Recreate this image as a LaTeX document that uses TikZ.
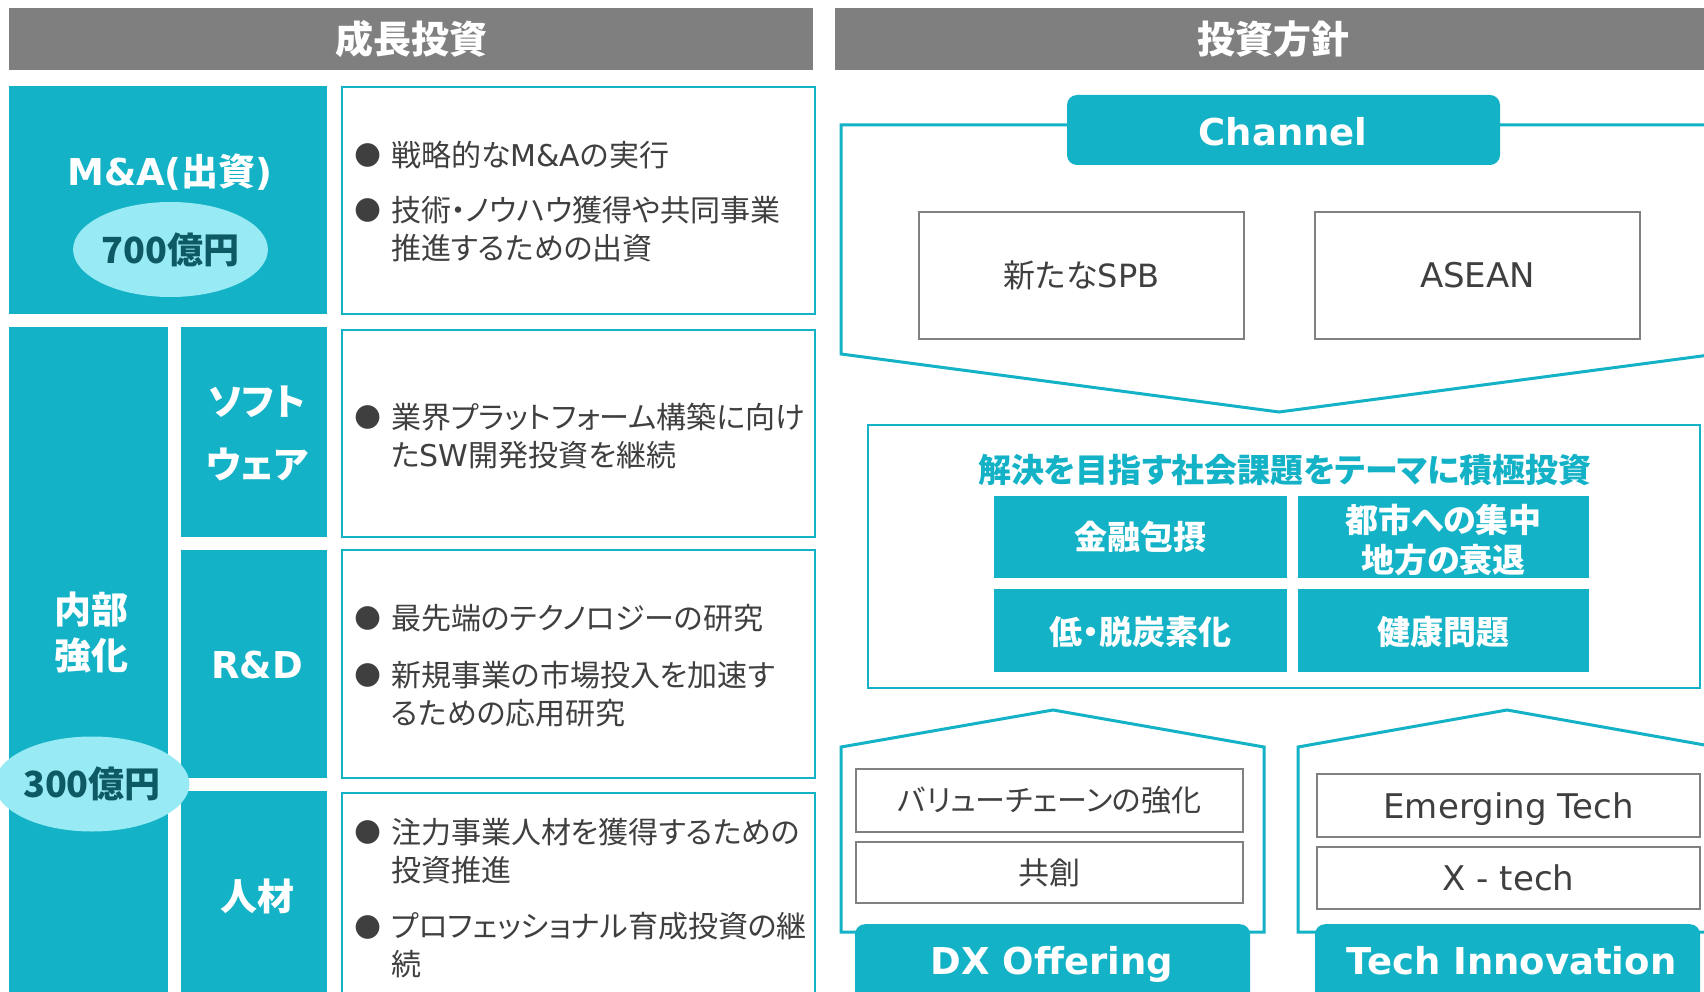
\documentclass[tikz,border=0pt]{standalone}
\usepackage{fontspec}
\setmainfont{Noto Sans CJK JP}[RawFeature=+palt]
\newfontfamily\latf{DejaVu Sans}
\newcommand\myL[1]{{\latf #1}}
\usetikzlibrary{shapes.geometric}
\definecolor{tealc}{HTML}{13B2C6}
\definecolor{lightc}{HTML}{98EBF5}
\definecolor{darkc}{HTML}{0E5A64}
\definecolor{hdrc}{HTML}{7F7F7F}
\definecolor{txtc}{HTML}{3F3F3F}
\definecolor{grayb}{HTML}{808080}
\tikzset{
  hdr/.style={fill=hdrc, draw=none, inner sep=0pt, text=white, font=\fontsize{38}{38}\selectfont\bfseries},
  tealbox/.style={fill=tealc, draw=none, inner sep=0pt},
  lab/.style={text=white, font=\fontsize{37}{46}\selectfont\bfseries, align=center, inner sep=0pt},
  txtbox/.style={draw=tealc, line width=2pt, fill=white, inner sep=0pt},
  bul/.style={text=txtc, font=\latf\fontsize{31}{31}\selectfont, inner sep=0pt},
  itm/.style={text=txtc, font=\fontsize{30}{38}\selectfont, align=left, anchor=west, inner sep=0pt},
  oval/.style={ellipse, fill=lightc, draw=none, inner sep=0pt, text=darkc, font=\fontsize{36}{36}\selectfont\bfseries},
  gbox/.style={draw=grayb, line width=2pt, fill=white, inner sep=0pt, text=txtc, font=\fontsize{32}{32}\selectfont},
  gboxs/.style={draw=grayb, line width=2pt, fill=white, inner sep=0pt, text=txtc, font=\fontsize{30}{30}\selectfont},
  outline/.style={draw=tealc, line width=3pt, line join=miter, fill=white},
  biglab/.style={text=white, font=\latf\fontsize{37}{37}\selectfont\bfseries, inner sep=0pt, anchor=base},
  sqlab/.style={text=white, font=\fontsize{33}{40}\selectfont\bfseries, align=center, inner sep=0pt},
}
\begin{document}
\begin{tikzpicture}[x=1pt,y=-1pt]
\useasboundingbox (0,0) rectangle (1704,992);
\clip (0,0) rectangle (1704,992);
\fill[white] (0,0) rectangle (1704,992);

% headers
\node[hdr, minimum width=804pt, minimum height=62pt] (hL) at (411,39) {成長投資};
\node[hdr, minimum width=876pt, minimum height=62pt] (hR) at (1273,39) {投資方針};

% ---------- M&A ----------
\node[tealbox, minimum width=318pt, minimum height=228pt] (ma) at (168,200) {};
\node[lab] (maT) at (170,172) {\myL{M\&A(}出資\myL{)}};
\node[oval, minimum width=183pt, minimum height=95pt] (ma7) at (170.5,249.5) {700億円};
\node[txtbox, minimum width=473pt, minimum height=227pt] (maBox) at (578.5,200.5) {};
\node[bul] (b1) at (368,155) {●};
\node[itm] (t1) at (391,155) {戦略的な\myL{M\&A}の実行};
\node[bul] (b2) at (368,210) {●};
\node[itm] (t2) at (391,229) {技術・ノウハウ獲得や共同事業\\推進するための出資};

% ---------- 内部強化 ----------
\node[tealbox, minimum width=159pt, minimum height=690pt, anchor=north] (nb) at (88.5,327) {};
\node[lab] (nbT) at (91,633) {内部\\強化};

\node[tealbox, minimum width=146pt, minimum height=210pt] (sw) at (254,432) {};
\node[lab, font=\fontsize{37}{63}\selectfont\bfseries] (swT) at (257,433) {ソフト\\ウェア};
\node[tealbox, minimum width=146pt, minimum height=228pt] (rd) at (254,664) {};
\node[lab] (rdT) at (257,665) {\myL{R\&D}};
\node[tealbox, minimum width=146pt, minimum height=230pt, anchor=north] (hr) at (254,791) {};
\node[lab] (hrT) at (257,896) {人材};

\node[txtbox, minimum width=473pt, minimum height=207pt] (swBox) at (578.5,433.5) {};
\node[bul] (b3) at (368,417) {●};
\node[itm] (t3) at (391,436) {業界プラットフォーム構築に向け\\た\myL{SW}開発投資を継続};

\node[txtbox, minimum width=473pt, minimum height=228pt] (rdBox) at (578.5,664) {};
\node[bul] (b4) at (368,618) {●};
\node[itm] (t4) at (391,618) {最先端のテクノロジーの研究};
\node[bul] (b5) at (368,675) {●};
\node[itm] (t5) at (391,694) {新規事業の市場投入を加速す\\るための応用研究};

\node[txtbox, minimum width=473pt, minimum height=230pt, anchor=north] (hrBox) at (578.5,792) {};
\node[bul] (b6) at (368,832) {●};
\node[itm] (t6) at (391,851) {注力事業人材を獲得するための\\投資推進};
\node[bul] (b7) at (368,927) {●};
\node[itm] (t7) at (391,945) {プロフェッショナル育成投資の継\\続};

\node[oval, minimum width=183pt, minimum height=95pt] (nb3) at (92,784) {300億円};

% ---------- Channel ----------
\draw[outline] (841,125) -- (1717,125) -- (1717,354) -- (1279,412) -- (841,354) -- cycle;
\node[tealbox, rounded corners=10pt, minimum width=433pt, minimum height=70pt] (ch) at (1283.5,130) {};
\node[biglab] (chT) at (1283,145.5) {Channel};
\node[gbox, minimum width=325pt, minimum height=127pt] (spb) at (1081.5,275.5) {新たな\myL{SPB}};
\node[gbox, minimum width=325pt, minimum height=127pt, font=\latf\fontsize{34}{34}\selectfont] (asean) at (1477.5,275.5) {ASEAN};

% ---------- 社会課題 ----------
\node[txtbox, minimum width=832pt, minimum height=263pt] (sol) at (1284,556.5) {};
\node[inner sep=0pt, text=tealc, font=\fontsize{33}{33}\selectfont\bfseries] (solT) at (1285,470) {解決を目指す社会課題をテーマに積極投資};
\node[tealbox, minimum width=293pt, minimum height=82pt] (q1) at (1140.5,537) {};
\node[sqlab] (q1T) at (1140.5,537) {金融包摂};
\node[tealbox, minimum width=291pt, minimum height=82pt] (q2) at (1443.5,537) {};
\node[sqlab] (q2T) at (1443.5,540) {都市への集中\\地方の衰退};
\node[tealbox, minimum width=293pt, minimum height=83pt] (q3) at (1140.5,630.5) {};
\node[sqlab] (q3T) at (1140.5,632) {低・脱炭素化};
\node[tealbox, minimum width=291pt, minimum height=83pt] (q4) at (1443.5,630.5) {};
\node[sqlab] (q4T) at (1443.5,632) {健康問題};

% ---------- DX Offering ----------
\draw[outline] (841,932) -- (841,747) -- (1053,710) -- (1264,747) -- (1264,932) -- cycle;
\node[gboxs, minimum width=387pt, minimum height=63pt] (vc) at (1049.5,800.5) {バリューチェーンの強化};
\node[gboxs, minimum width=387pt, minimum height=61pt, font=\fontsize{31}{31}\selectfont] (kc) at (1049.5,872.5) {共創};
\node[tealbox, rounded corners=10pt, minimum width=395pt, minimum height=95pt, anchor=north] (dx) at (1052.5,924) {};
\node[biglab] (dxT) at (1052,974.5) {DX Offering};

% ---------- Tech Innovation ----------
\draw[outline] (1298,932) -- (1298,747) -- (1507,710) -- (1716,747) -- (1716,932) -- cycle;
\node[gboxs, minimum width=383pt, minimum height=63pt, font=\latf\fontsize{34}{34}\selectfont, text depth=0pt] (et) at (1508.5,805.5) {Emerging Tech};
\node[gboxs, minimum width=383pt, minimum height=62pt, font=\latf\fontsize{34}{34}\selectfont, text depth=0pt] (xt) at (1508.5,878) {X - tech};
\node[tealbox, rounded corners=10pt, minimum width=385pt, minimum height=95pt, anchor=north] (ti) at (1507.5,924) {};
\node[biglab] (tiT) at (1511.5,974.5) {Tech Innovation};
\end{tikzpicture}
\end{document}
